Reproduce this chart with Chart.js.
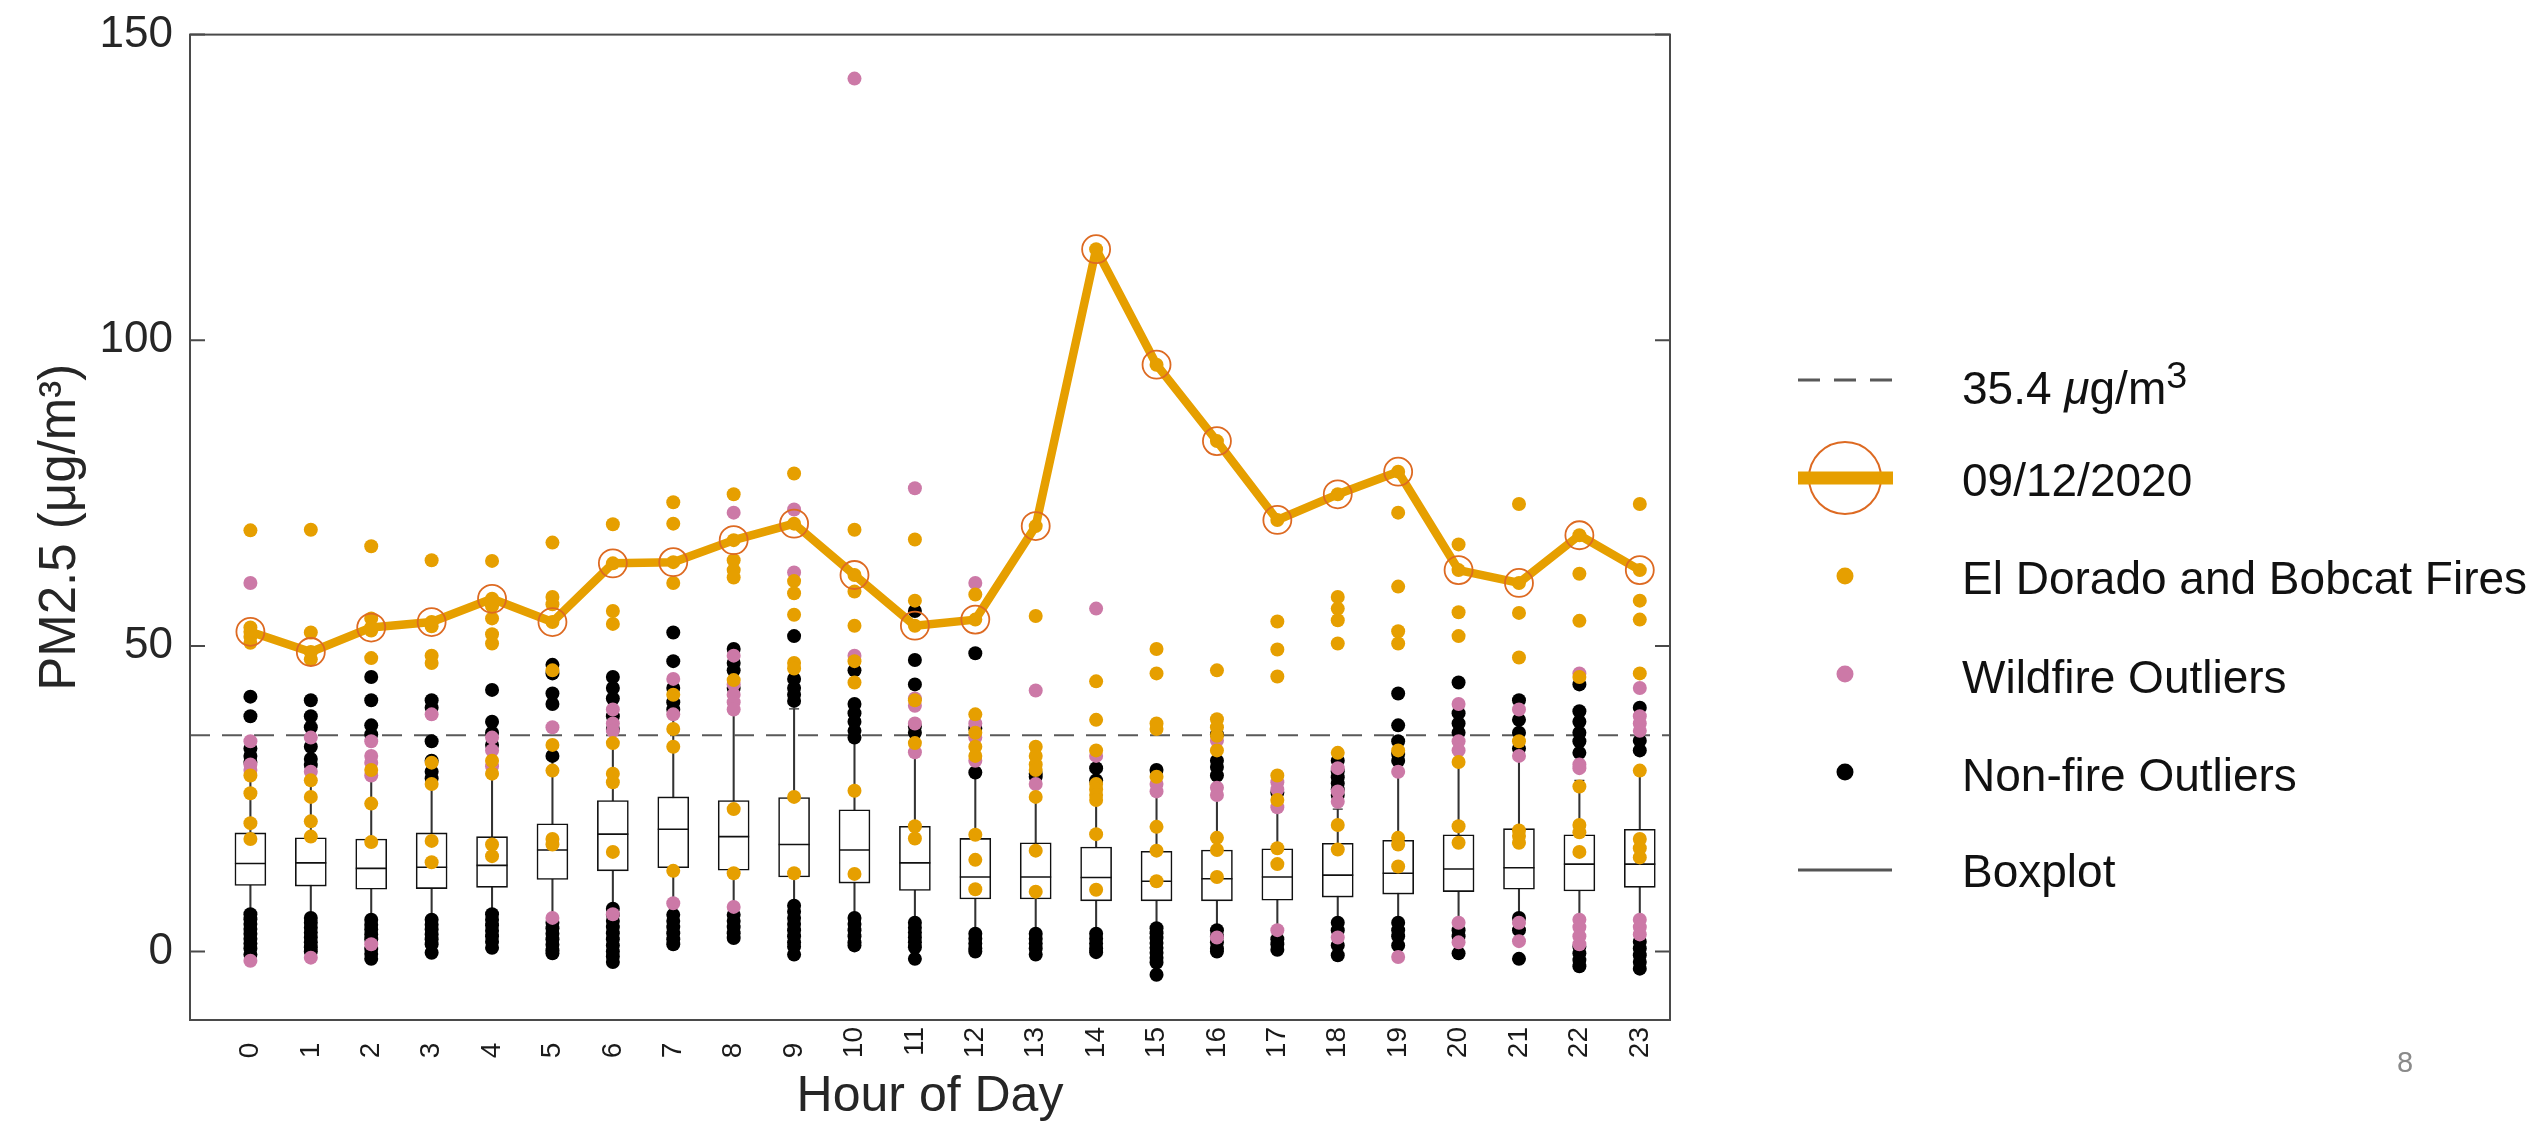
<!DOCTYPE html>
<html>
<head>
<meta charset="utf-8">
<title>PM2.5 by hour of day</title>
<script src="https://cdn.jsdelivr.net/npm/chart.js@4.4.1/dist/chart.umd.min.js"></script>
<style>
  body { margin: 0; background: #fff; overflow: hidden; font-family: 'Liberation Sans', Arial, sans-serif; }
  #wrap { position: relative; width: 2539px; height: 1127px; }
  #myChart { position: absolute; left: 0; top: 0; }
  .mark { position: absolute; left: 1790px; }
  .txt { position: absolute; left: 1962px; font-size: 46px; line-height: 46px; color: #111; white-space: nowrap; }
  .txt sup { font-size: 0.82em; vertical-align: 0.42em; line-height: 0; }
  #page { position: absolute; left: 2397px; top: 1048px; font-size: 29px; line-height: 29px; color: #8a8a8a; }
</style>
</head>
<body>
<div id="wrap">
  <canvas id="myChart" width="2539" height="1127"></canvas>

  <svg class="mark" style="top:360px" width="110" height="40">
    <line x1="8" y1="20" x2="102" y2="20" stroke="#595959" stroke-width="3" stroke-dasharray="22 14"/>
  </svg>
  <div class="txt" style="top:365px">35.4 <i>μ</i>g/m<sup>3</sup></div>

  <svg class="mark" style="top:438px" width="110" height="80">
    <circle cx="55" cy="40" r="36" fill="none" stroke="#DD6A22" stroke-width="2"/>
    <rect x="8" y="33.5" width="95" height="13" fill="#E69F00"/>
  </svg>
  <div class="txt" style="top:457px">09/12/2020</div>

  <svg class="mark" style="top:556px" width="110" height="40">
    <circle cx="55" cy="20" r="8.5" fill="#E69F00"/>
  </svg>
  <div class="txt" style="top:555px">El Dorado and Bobcat Fires</div>

  <svg class="mark" style="top:654px" width="110" height="40">
    <circle cx="55" cy="20" r="8.5" fill="#CC79A7"/>
  </svg>
  <div class="txt" style="top:654px">Wildfire Outliers</div>

  <svg class="mark" style="top:752px" width="110" height="40">
    <circle cx="55" cy="20" r="8.5" fill="#000"/>
  </svg>
  <div class="txt" style="top:752px">Non-fire Outliers</div>

  <svg class="mark" style="top:850px" width="110" height="40">
    <line x1="8" y1="20" x2="102" y2="20" stroke="#555" stroke-width="3"/>
  </svg>
  <div class="txt" style="top:848px">Boxplot</div>

  <div id="page">8</div>
</div>

<script>
// hours on the x axis
const hours = [0, 1, 2, 3, 4, 5, 6, 7, 8, 9, 10, 11, 12, 13, 14, 15, 16, 17, 18, 19, 20, 21, 22, 23];
const hourLabels = ['0', '1', '2', '3', '4', '5', '6', '7', '8', '9', '10', '11',
                    '12', '13', '14', '15', '16', '17', '18', '19', '20', '21', '22', '23'];
const yTickValues = [0, 50, 100, 150];
const xMin = -1, xMax = 23.5;
const yMin = -11.2, yMax = 150;

// boxplot statistics per hour
const boxQ1 =     [10.8, 10.7, 10.2, 10.3, 10.5, 11.8, 13.2, 13.7, 13.3, 12.2, 11.2, 10.0, 8.6, 8.6, 8.3, 8.3, 8.3, 8.4, 8.9, 9.4, 9.8, 10.2, 9.9, 10.5];
const boxMedian = [14.4, 14.5, 13.6, 13.8, 14.1, 16.6, 19.2, 20.0, 18.8, 17.5, 16.6, 14.5, 12.2, 12.2, 12.1, 11.5, 11.9, 12.2, 12.5, 12.8, 13.5, 13.7, 14.3, 14.3];
const boxQ3 =     [19.4, 18.6, 18.4, 19.4, 18.8, 20.9, 24.7, 25.3, 24.7, 25.2, 23.2, 20.5, 18.5, 17.8, 17.1, 16.4, 16.6, 16.8, 17.7, 18.2, 19.1, 20.1, 19.1, 20.0];
const whiskerLow =  [6.5, 5.8, 5.5, 5.2, 6.1, 4.7, 7, 6, 6, 7.5, 5.5, 4.7, 2.9, 2.9, 2.9, 3.8, 3.5, 3.5, 4.7, 4.7, 4.7, 5.5, 5.7, 5.7];
const whiskerHigh = [31, 31, 30, 28, 29, 34, 38, 40, 40, 39.7, 34.7, 32.6, 29, 25.3, 25, 28, 26.8, 23.3, 23.3, 29.7, 30.9, 32.6, 28, 29.7];

// 09/12/2020 hourly PM2.5
const day20200912 = [52.3, 49, 53, 53.9, 57.7, 53.9, 63.5, 63.7, 67.3, 70, 61.6, 53.3, 54.3, 69.6, 114.9, 96, 83.5, 70.6, 74.8, 78.5, 62.4, 60.3, 68.1, 62.4];
const thresholdValue = 35.4;

// El Dorado and Bobcat Fires days (orange)
const fireDots = [
  [68.9, 53, 51.5, 50.5, 28.8, 25.9, 21, 18.4],
  [69, 52.2, 47.8, 28, 25.3, 21.3, 18.8],
  [66.3, 54.5, 52.5, 48, 29.7, 24.2, 17.9],
  [64, 53.2, 48.4, 47.2, 30.9, 27.4, 18.1, 14.6],
  [63.9, 56.5, 54.5, 51.9, 50.4, 31.2, 29.1, 17.5, 15.6],
  [66.9, 58, 56.8, 46, 33.8, 29.6, 18.4, 17.5],
  [69.9, 55.7, 53.6, 34.1, 29.1, 27.7, 16.3],
  [73.5, 70, 60.3, 42, 36.4, 33.5, 13.2],
  [74.8, 64, 62.4, 61.2, 44.4, 23.3, 12.8],
  [78.2, 60.6, 58.6, 55.1, 47.2, 46.3, 25.3, 12.8],
  [69, 58.9, 53.3, 47.5, 44, 26.3, 12.7],
  [67.4, 57.4, 41.1, 34.1, 20.5, 18.5],
  [58.4, 38.8, 35.8, 33.5, 32, 19.1, 15, 10.2],
  [54.9, 33.5, 32, 30.6, 29.7, 25.3, 16.5, 9.8],
  [44.2, 37.9, 32.9, 27.4, 26.5, 25.6, 24.8, 19.2, 10.1],
  [49.5, 45.5, 37.3, 36.4, 28.6, 20.4, 16.5, 11.5],
  [46, 38, 36.7, 35.3, 32.9, 18.6, 16.6, 12.2],
  [54, 49.4, 45, 28.8, 24.8, 16.9, 14.3],
  [58, 56.1, 54.2, 50.4, 32.5, 20.7, 16.7],
  [71.8, 59.7, 52.4, 50.4, 32.9, 18.6, 17.5, 13.9],
  [66.6, 55.5, 51.6, 31, 20.5, 17.8],
  [73.2, 55.4, 48.1, 34.4, 19.8, 18.9, 17.8],
  [61.8, 54.1, 44.9, 27, 20.7, 19.5, 16.3],
  [73.2, 57.4, 54.3, 45.5, 29.6, 18.4, 16.9, 15.4]
];

// Wildfire outliers (pink)
const wildfireDots = [
  [60.3, 34.4, 30.6, 29.7, -1.5],
  [35, 29.4, -1],
  [34.4, 32, 30.9, 28.8, 1.2],
  [38.8],
  [35, 32.9, 30.3],
  [36.7, 5.5],
  [39.6, 37.3, 36.1, 6.1],
  [44.6, 38.8, 7.9],
  [71.8, 48.4, 43.7, 42, 40.8, 39.6, 7.3],
  [72.3, 62],
  [142.8, 48.4],
  [75.8, 41.4, 40.2, 37.3, 32.6],
  [60.3, 37.3, 35, 31.2],
  [42.7, 27.4],
  [56.1, 32],
  [27.4, 26.2],
  [34.5, 26.8, 25.6, 2.3],
  [27.7, 26.5, 23.6, 3.5],
  [30, 26.2, 24.5, 2.3],
  [29.4, -0.9],
  [40.5, 34.4, 32.9, 4.7, 1.5],
  [39.6, 32, 4.7, 1.7],
  [45.5, 30.6, 30, 5.2, 4, 2.5, 1.2],
  [43.1, 38.5, 37.3, 36.1, 5.2, 4, 2.8]
];

// Non-fire outliers (black)
const nonFireDots = [
  [41.7, 38.5, 33.2, 32, 31, 6.1, 5.3, 4.5, 3.7, 2.9, 2.1, 1.3, 0.5, -0.5],
  [41.1, 38.5, 36.7, 33.5, 31.5, 30.5, 5.5, 4.7, 3.9, 3.1, 2.3, 1.5, 0.7, 0],
  [44.9, 41.1, 37, 35.5, 5.2, 4.4, 3.6, 2.8, 2, 0.4, -0.4, -1.2],
  [41.1, 39.9, 34.4, 31.2, 29.4, 28.3, 5.2, 4.4, 3.6, 2.8, 2, 1.2, -0.2],
  [42.8, 37.6, 35.8, 33.8, 6.1, 5.2, 4.3, 3.4, 2.5, 1.6, 0.6],
  [46.9, 45.5, 42.2, 40.5, 32, 4.7, 3.8, 2.9, 2, 1.1, 0.2, -0.3],
  [44.9, 43.1, 41.4, 38.5, 36.4, 7, 6, 5, 4, 3, 2, 1, 0, -0.8, -1.7],
  [52.2, 47.5, 43.1, 40.8, 39.6, 6, 5, 4, 3, 2, 1.2],
  [49.5, 47.2, 46, 43.1, 6, 5, 4, 3, 2.2],
  [51.6, 44.6, 43.1, 42, 41, 7.5, 6.5, 5.5, 4.5, 3.5, 2.5, 1.5, 0.8, -0.5],
  [46, 40.5, 39, 37.6, 36.1, 35, 5.5, 4.5, 3.5, 2.5, 1.5, 1],
  [55.7, 47.7, 43.7, 36.8, 35.8, 4.7, 3.9, 3.1, 2.3, 1.5, 0.7, -1.2],
  [48.8, 36.5, 29.3, 2.9, 2.1, 1.3, 0.5, 0],
  [29.1, 28.6, 2.9, 2.1, 1.3, 0.5, -0.5],
  [30, 28, 2.9, 2.1, 1.3, 0.5, -0.1],
  [29.7, 3.8, 3, 2.2, 1.4, 0.6, -0.2, -1, -1.8, -3.8],
  [35.5, 31.2, 30.2, 28.8, 3.5, 2.5, 1.5, 0.5, 0],
  [26, 2, 1.2, 0.3],
  [31.2, 29.5, 28.5, 27.5, 26.5, 25.6, 4.7, 3.5, 1, -0.6],
  [42.2, 37, 34.4, 32.3, 31.2, 4.7, 3.5, 2.5, 1],
  [44, 39, 37.3, 35.8, 3.5, 2.5, -0.3],
  [41.1, 37.9, 35.8, 33.2, 5.5, 3.5, -1.2],
  [43.7, 39.3, 37.6, 35.8, 34.4, 32.5, 0.8, -0.3, -1.4, -2.4],
  [39.9, 34.5, 32.9, 1.6, 0.5, -0.6, -1.7, -2.8]
];

const orange = '#E69F00';
const pink = '#CC79A7';
const ringColor = '#DD6A22';

function toPoints(groups) {
    const pts = [];
    groups.forEach((vals, i) => vals.forEach(v => pts.push({ x: hours[i], y: v })));
    return pts;
}

function dotSet(label, groups, color, order) {
    return {
        type: 'scatter',
        label: label,
        data: toPoints(groups),
        pointRadius: 7,
        pointBackgroundColor: color,
        pointBorderWidth: 0,
        order: order
    };
}

// draws the axes box with inward ticks on both sides
const framePlugin = {
    id: 'frame',
    afterDatasetsDraw(chart) {
        const { ctx, chartArea: a, scales: { y } } = chart;
        ctx.save();
        ctx.lineWidth = 2;
        ctx.strokeStyle = '#4a4a4a';
        ctx.strokeRect(a.left, a.top, a.right - a.left, a.bottom - a.top);
        ctx.beginPath();
        y.ticks.forEach(t => {
            const py = y.getPixelForValue(t.value);
            ctx.moveTo(a.left, py);
            ctx.lineTo(a.left + 15, py);
            ctx.moveTo(a.right, py);
            ctx.lineTo(a.right - 15, py);
        });
        ctx.stroke();
        ctx.restore();
    }
};

Chart.defaults.font.family = "'Liberation Sans', Arial, sans-serif";
Chart.defaults.color = '#262626';

const datasets = [
    {
        type: 'line',
        label: '09/12/2020',
        data: hours.map((h, i) => ({ x: h, y: day20200912[i] })),
        borderColor: orange,
        borderWidth: 8.5,
        borderJoinStyle: 'round',
        tension: 0,
        pointRadius: 14,
        pointBackgroundColor: 'rgba(0,0,0,0)',
        pointBorderColor: ringColor,
        pointBorderWidth: 1.8,
        order: 0
    },
    dotSet('09/12/2020 points', hours.map((h, i) => [day20200912[i]]), orange, 1),
    dotSet('El Dorado and Bobcat Fires', fireDots, orange, 1),
    dotSet('Wildfire Outliers', wildfireDots, pink, 2),
    dotSet('Non-fire Outliers', nonFireDots, '#000', 3),
    {
        type: 'line',
        label: '35.4 μg/m³',
        data: [{ x: xMin, y: thresholdValue }, { x: xMax, y: thresholdValue }],
        borderColor: '#595959',
        borderWidth: 2,
        borderDash: [20, 12],
        pointRadius: 0,
        order: 4
    },
    {
        type: 'scatter',
        label: 'Median',
        data: hours.map((h, i) => ({ x: h, y: boxMedian[i] })),
        pointStyle: 'line',
        pointRadius: 15.5,
        pointBorderColor: '#111',
        pointBorderWidth: 1.6,
        order: 5
    },
    {
        type: 'scatter',
        label: 'Caps',
        data: hours.map((h, i) => ({ x: h, y: whiskerHigh[i] }))
            .concat(hours.map((h, i) => ({ x: h, y: whiskerLow[i] }))),
        pointStyle: 'line',
        pointRadius: 5,
        pointBorderColor: '#333',
        pointBorderWidth: 1.3,
        order: 6
    },
    {
        type: 'bar',
        label: 'Box',
        data: hours.map((h, i) => ({ x: h, y: [boxQ1[i], boxQ3[i]] })),
        backgroundColor: '#fff',
        borderColor: '#111',
        borderWidth: 1.6,
        borderSkipped: false,
        barThickness: 31,
        grouped: false,
        order: 7
    },
    {
        type: 'bar',
        label: 'Whisker',
        data: hours.map((h, i) => ({ x: h, y: [whiskerLow[i], whiskerHigh[i]] })),
        backgroundColor: '#333',
        borderWidth: 0,
        barThickness: 1.4,
        grouped: false,
        order: 8
    }
];

const ctx = document.getElementById('myChart').getContext('2d');
const myChart = new Chart(ctx, {
    type: 'scatter',
    data: { datasets: datasets },
    options: {
        responsive: false,
        animation: false,
        events: [],
        layout: { padding: { left: 0, top: 20, right: 869, bottom: 0 } },
        plugins: {
            legend: { display: false },
            tooltip: { enabled: false }
        },
        scales: {
            x: {
                type: 'linear',
                min: xMin,
                max: xMax,
                offset: false,
                grid: { display: false, drawTicks: false, tickLength: 0 },
                border: { display: false },
                afterBuildTicks: scale => { scale.ticks = hours.map(h => ({ value: h })); },
                afterFit: scale => { scale.height = 107; },
                ticks: {
                    autoSkip: false,
                    minRotation: 90,
                    maxRotation: 90,
                    padding: 7,
                    color: '#1a1a1a',
                    font: { size: 28 },
                    callback: (value, index) => {
                        const s = hourLabels[index];
                        return s.length < 2 ? s + '  ' : s;
                    }
                },
                title: {
                    display: true,
                    text: 'Hour of Day',
                    color: '#262626',
                    font: { size: 50, lineHeight: 1 },
                    padding: { top: 0, bottom: 5 }
                }
            },
            y: {
                type: 'linear',
                min: yMin,
                max: yMax,
                grid: { display: false, drawTicks: false, tickLength: 0 },
                border: { display: false },
                afterBuildTicks: scale => { scale.ticks = yTickValues.map(v => ({ value: v })); },
                afterFit: scale => { scale.width = 190; },
                ticks: {
                    padding: 17,
                    color: '#262626',
                    font: { size: 44, lineHeight: 0.8 }
                },
                title: {
                    display: true,
                    text: 'PM2.5 (μg/m³)',
                    color: '#262626',
                    font: { size: 51, lineHeight: 1 },
                    padding: { top: 35, bottom: 0 }
                }
            }
        }
    },
    plugins: [framePlugin]
});
</script>
</body>
</html>
